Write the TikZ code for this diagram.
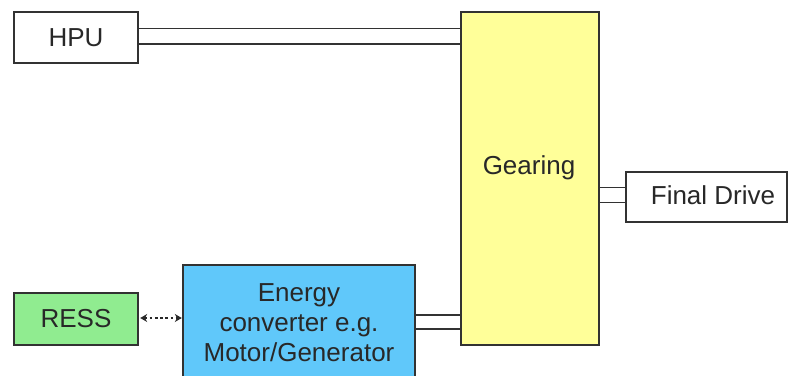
\documentclass[tikz,border=0pt]{standalone}
\usepackage{fontspec}
\setmainfont{Liberation Sans}
\usetikzlibrary{arrows.meta}
\definecolor{gearyellow}{RGB}{255,255,153}
\definecolor{ressgreen}{RGB}{144,236,144}
\definecolor{ecblue}{RGB}{96,200,250}
\definecolor{linegray}{RGB}{50,50,50}
\definecolor{txtgray}{RGB}{40,40,40}
\begin{document}
\begin{tikzpicture}[x=1pt,y=-1pt,
  box/.style={draw=linegray, line width=1.4pt, inner sep=0pt, text=txtgray,
              font=\fontsize{26}{30}\selectfont},
  lbl/.style={text=txtgray, inner sep=0pt, font=\fontsize{26}{30}\selectfont, align=center},
  shaft/.style={draw=linegray, line width=1.4pt}]
\useasboundingbox (0,0) rectangle (789,375);
\clip (0,0) rectangle (789,375);
% boxes
\node[box, minimum width=124pt, minimum height=51pt] (hpu) at (76,37.5) {HPU};
\node[box, fill=gearyellow, minimum width=138pt, minimum height=333pt] (gear) at (530,178.5) {};
\node[lbl] (geartxt) at (529,168) {Gearing};
\node[box, minimum width=161pt, minimum height=50pt] (fd) at (706.5,197) {};
\node[lbl] (fdtxt) at (713,195.5) {Final Drive};
\node[box, fill=ressgreen, minimum width=124pt, minimum height=52pt] (ress) at (76,319) {RESS};
\node[box, fill=ecblue, minimum width=232pt, minimum height=130pt] (ec) at (299,330) {};
\node[lbl] (ectxt) at (299,323) {Energy\\converter e.g.\\Motor/Generator};
% shafts
\draw[shaft] (hpu.east |- 0,28.5) -- (gear.west |- 0,28.5);
\draw[shaft] (hpu.east |- 0,44) -- (gear.west |- 0,44);
\draw[shaft] (gear.east |- 0,187.5) -- (fd.west |- 0,187.5);
\draw[shaft] (gear.east |- 0,202.5) -- (fd.west |- 0,202.5);
\draw[shaft] (ec.east |- 0,315) -- (gear.west |- 0,315);
\draw[shaft] (ec.east |- 0,329) -- (gear.west |- 0,329);
% dotted double arrow
\draw[draw=txtgray, line width=2.6pt, dash pattern=on 2.6pt off 2.6pt,
      {Stealth[length=7pt,width=8pt]}-{Stealth[length=7pt,width=8pt]}]
  ([xshift=1.5pt]ress.east |- 0,318) -- ([xshift=-0.5pt]ec.west |- 0,318);
\end{tikzpicture}
\end{document}
